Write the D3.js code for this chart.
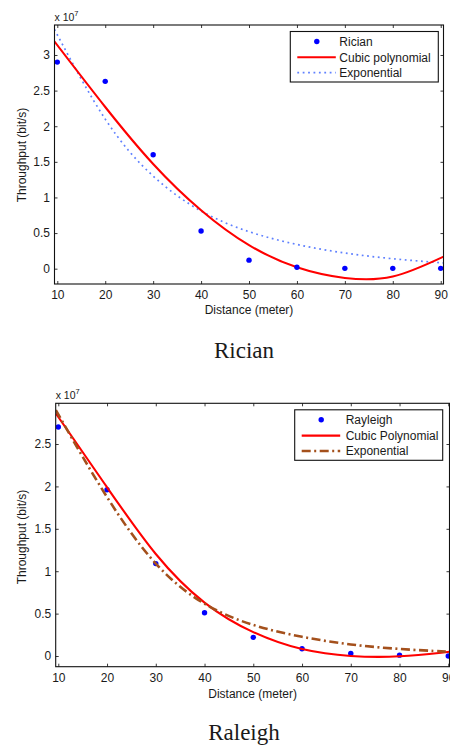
<!DOCTYPE html>
<html>
<head>
<meta charset="utf-8">
<script src="https://cdn.jsdelivr.net/npm/d3@7"></script>
<style>
  html, body { margin: 0; padding: 0; background: #fff; }
  svg { display: block; }
  text { font-family: "Liberation Sans", Arial, Helvetica, sans-serif; fill: #1a1a1a; }
</style>
</head>
<body>
<svg id="chart" width="450" height="747"></svg>
<script>
// ---------------- data (throughput in units of 1e7 bit/s) ----------------
const distance = [10, 20, 30, 40, 50, 60, 70, 80, 90];
const xTickValues = [10, 20, 30, 40, 50, 60, 70, 80, 90];

// Rician
const ricianThroughput = [2.90, 2.63, 1.60, 0.53, 0.12, 0.02, 0.005, 0.005, 0.005];
const ricianFitX = [9.4, 20, 30, 40, 50, 60, 70, 80, 90.6];
const ricianCubic = [3.19, 2.27, 1.47, 0.82, 0.33, 0.02, -0.13, -0.11, 0.17];
const ricianExponential = [3.36, 2.10, 1.30, 0.81, 0.52, 0.34, 0.22, 0.14, 0.08];
const ricianYTicks = [0, 0.5, 1, 1.5, 2, 2.5, 3];
const ricianLegend = ["Rician", "Cubic polynomial", "Exponential"];

// Rayleigh
const rayleighThroughput = [2.70, 1.96, 1.09, 0.51, 0.22, 0.086, 0.03, 0.01, 0.0];
const rayleighFitX = [9.5, 20, 30, 40, 50, 60, 70, 80, 90.25];
const rayleighCubic = [2.86, 1.99, 1.16, 0.59, 0.26, 0.06, -0.01, -0.015, 0.05];
const rayleighExponential = [2.90, 1.84, 1.03, 0.58, 0.35, 0.22, 0.13, 0.08, 0.05];
const rayleighYTicks = [0, 0.5, 1, 1.5, 2, 2.5];
const rayleighLegend = ["Rayleigh", "Cubic Polynomial", "Exponential"];

const captions = ["Rician", "Raleigh"];

// ---------------- drawing ----------------
const svg = d3.select("#chart");

function drawPanel(cfg) {
  const { left, right, top, bottom } = cfg.box;
  const x = d3.scaleLinear().domain(cfg.xDomain).range([left, right]);
  const y = d3.scaleLinear().domain(cfg.yDomain).range([bottom, top]);
  const g = svg.append("g");
  const clipId = "clip" + cfg.id;
  g.append("clipPath").attr("id", clipId)
    .append("rect").attr("x", left).attr("y", top)
    .attr("width", right - left).attr("height", bottom - top);

  const fmt = d => (d === 0 ? "0" : String(d));
  // axes (inward ticks, MATLAB style)
  const axB = g.append("g").attr("transform", `translate(0,${bottom})`)
    .call(d3.axisBottom(x).tickValues(xTickValues).tickSize(-3).tickPadding(6.5).tickFormat(fmt));
  const axT = g.append("g").attr("transform", `translate(0,${top})`)
    .call(d3.axisTop(x).tickValues(xTickValues).tickSize(-3).tickFormat(""));
  const axL = g.append("g").attr("transform", `translate(${left},0)`)
    .call(d3.axisLeft(y).tickValues(cfg.yTicks).tickSize(-3).tickPadding(4.5).tickFormat(fmt));
  const axR = g.append("g").attr("transform", `translate(${right},0)`)
    .call(d3.axisRight(y).tickValues(cfg.yTicks).tickSize(-3).tickFormat(""));
  [axB, axT, axL, axR].forEach(a => {
    a.select(".domain").remove();
    a.selectAll(".tick line").attr("stroke", "#222").attr("stroke-width", 0.9);
    a.selectAll(".tick text").attr("font-size", 12).attr("fill", "#1a1a1a")
      .style("font-family", '"Liberation Sans", Arial, sans-serif');
  });

  // curves
  const pts = (xs, ys) => xs.map((v, i) => [v, ys[i]]);
  const line = d3.line().x(d => x(d[0])).y(d => y(d[1])).curve(cfg.curve);
  const plot = g.append("g").attr("clip-path", `url(#${clipId})`);

  cfg.order.forEach(k => {
    if (k === "exp") {
      plot.append("path").attr("d", line(pts(cfg.fitX, cfg.exp)))
        .attr("fill", "none").attr("stroke", cfg.expStyle.color)
        .attr("stroke-width", cfg.expStyle.width)
        .attr("stroke-dasharray", cfg.expStyle.dash);
    } else if (k === "cubic") {
      plot.append("path").attr("d", line(pts(cfg.fitX, cfg.cubic)))
        .attr("fill", "none").attr("stroke", "#ff0000").attr("stroke-width", 2.1);
    } else if (k === "pts") {
      plot.selectAll("circle.pt").data(pts(distance, cfg.data)).enter()
        .append("circle").attr("class", "pt")
        .attr("cx", d => x(d[0])).attr("cy", d => y(d[1])).attr("r", 2.7)
        .attr("fill", "#0000ff");
    }
  });

  // frame
  g.append("rect").attr("x", left).attr("y", top)
    .attr("width", right - left).attr("height", bottom - top)
    .attr("fill", "none").attr("stroke", "#111").attr("stroke-width", 1.1);

  // exponent label
  const ex = g.append("text").attr("x", left).attr("y", top - 4.3).attr("font-size", 10.5);
  ex.append("tspan").text("x 10");
  ex.append("tspan").attr("dy", -5).attr("font-size", 7.5).text("7");

  // axis labels
  g.append("text").attr("x", (left + right) / 2).attr("y", cfg.xLabelY)
    .attr("text-anchor", "middle").attr("font-size", 12).text("Distance (meter)");
  g.append("text").attr("transform", `translate(22,${cfg.yLabelY}) rotate(-90)`)
    .attr("text-anchor", "middle").attr("dy", "0.35em").attr("font-size", 12)
    .text("Throughput (bit/s)");

  // legend
  const lw = 148, lh = 50.5;
  const lx = right - cfg.legendInset - lw, ly = top + 6.5;
  const lg = g.append("g").attr("transform", `translate(${lx},${ly})`);
  lg.append("rect").attr("width", lw).attr("height", lh)
    .attr("fill", "#fff").attr("stroke", "#111").attr("stroke-width", 1.1);
  const rows = [10, 25.8, 41.2];
  lg.append("circle").attr("cx", 26.5).attr("cy", rows[0]).attr("r", 2.7).attr("fill", "#0000ff");
  lg.append("line").attr("x1", 7).attr("x2", 45.5).attr("y1", rows[1]).attr("y2", rows[1])
    .attr("stroke", "#ff0000").attr("stroke-width", 2.1);
  lg.append("line").attr("x1", 7).attr("x2", 45.5).attr("y1", rows[2]).attr("y2", rows[2])
    .attr("stroke", cfg.expStyle.color).attr("stroke-width", cfg.expStyle.width)
    .attr("stroke-dasharray", cfg.expStyle.dash);
  cfg.legend.forEach((t, i) => {
    lg.append("text").attr("x", cfg.legendTextX).attr("y", rows[i]).attr("dy", "0.36em")
      .attr("font-size", 12).text(t);
  });

  // caption
  svg.append("text").attr("x", cfg.captionX).attr("y", cfg.captionY)
    .attr("text-anchor", "middle").attr("font-size", 23)
    .style("font-family", '"Liberation Serif", "Times New Roman", serif')
    .attr("fill", "#000").text(cfg.caption);
}

drawPanel({
  id: "a",
  box: { left: 54.5, right: 443.5, top: 25, bottom: 284 },
  xDomain: [9.415, 90.58], yDomain: [-0.215, 3.421],
  yTicks: ricianYTicks,
  data: ricianThroughput, fitX: ricianFitX, cubic: ricianCubic, exp: ricianExponential,
  curve: d3.curveNatural,
  expStyle: { color: "#5f80ff", width: 1.7, dash: "1.8,3.6" },
  order: ["exp", "cubic", "pts"],
  legend: ricianLegend, legendInset: 5.2, legendTextX: 49,
  xLabelY: 314, yLabelY: 155,
  caption: captions[0], captionX: 244, captionY: 358
});

drawPanel({
  id: "b",
  box: { left: 55.7, right: 449.5, top: 403.3, bottom: 666.7 },
  xDomain: [9.467, 90.25], yDomain: [-0.126, 2.98],
  yTicks: rayleighYTicks,
  data: rayleighThroughput, fitX: rayleighFitX, cubic: rayleighCubic, exp: rayleighExponential,
  curve: d3.curveBasis,
  expStyle: { color: "#a4501c", width: 2.6, dash: "9,3.5,2,3.5" },
  order: ["pts", "cubic", "exp"],
  legend: rayleighLegend, legendInset: 6.8, legendTextX: 51,
  xLabelY: 697.5, yLabelY: 537,
  caption: captions[1], captionX: 244, captionY: 740
});
</script>
</body>
</html>
